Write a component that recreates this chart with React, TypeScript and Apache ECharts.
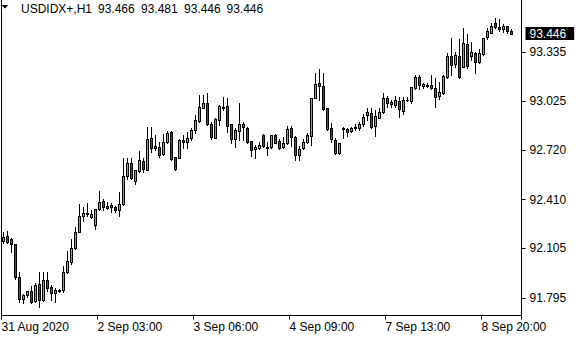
import React, { useEffect, useRef } from 'react';
import * as echarts from 'echarts';

const symbolText = 'USDIDX+,H1';
const headerValues = ['93.466', '93.481', '93.446', '93.446'];
const timeLabels = ['31 Aug 2020', '2 Sep 03:00', '3 Sep 06:00', '4 Sep 09:00', '7 Sep 13:00', '8 Sep 20:00'];
const timeLabelBars = [0, 24, 48, 72, 96, 120];
const priceTicks = [91.795, 92.105, 92.41, 92.72, 93.025, 93.335];

const opens = [
  92.149, 92.183, 92.162, 92.133, 91.928, 91.790, 91.811, 91.838, 91.774, 91.882,
  91.780, 91.905, 91.863, 91.824, 91.841, 91.845, 91.957, 92.020, 92.108, 92.210,
  92.308, 92.318, 92.304, 92.249, 92.349, 92.402, 92.370, 92.379, 92.364, 92.347,
  92.381, 92.558, 92.638, 92.527, 92.592, 92.652, 92.594, 92.794, 92.744, 92.740,
  92.694, 92.773, 92.836, 92.680, 92.673, 92.784, 92.769, 92.794, 92.846, 92.903,
  92.986, 93.013, 92.882, 92.798, 92.909, 92.986, 92.997, 92.882, 92.788, 92.842,
  92.882, 92.861, 92.777, 92.727, 92.735, 92.815, 92.732, 92.738, 92.815, 92.778,
  92.738, 92.763, 92.857, 92.801, 92.690, 92.732, 92.774, 92.809, 93.045, 93.143,
  93.122, 92.986, 92.857, 92.784, 92.701, 92.853, 92.853, 92.840, 92.857, 92.857,
  92.882, 92.941, 92.951, 92.874, 92.924, 92.957, 93.047, 93.010, 93.003, 93.028,
  92.968, 93.032, 93.030, 93.108, 93.181, 93.124, 93.128, 93.128, 93.108, 93.060,
  93.076, 93.181, 93.310, 93.260, 93.310, 93.243, 93.385, 93.310, 93.331, 93.275,
  93.322, 93.427, 93.456, 93.519, 93.494, 93.477, 93.498, 93.466,
];
const closes = [
  92.174, 92.145, 92.133, 91.928, 91.788, 91.811, 91.836, 91.768, 91.874, 91.782,
  91.907, 91.857, 91.824, 91.845, 91.845, 91.957, 92.024, 92.108, 92.208, 92.308,
  92.329, 92.329, 92.320, 92.349, 92.393, 92.362, 92.360, 92.362, 92.347, 92.381,
  92.558, 92.638, 92.548, 92.596, 92.659, 92.602, 92.790, 92.736, 92.732, 92.690,
  92.773, 92.826, 92.665, 92.600, 92.784, 92.769, 92.798, 92.846, 92.909, 92.988,
  93.013, 92.882, 92.805, 92.915, 92.997, 92.988, 92.873, 92.790, 92.846, 92.882,
  92.867, 92.769, 92.721, 92.740, 92.753, 92.747, 92.742, 92.815, 92.767, 92.732,
  92.763, 92.851, 92.801, 92.690, 92.726, 92.774, 92.815, 93.045, 93.135, 93.122,
  92.976, 92.853, 92.788, 92.701, 92.763, 92.861, 92.836, 92.861, 92.863, 92.884,
  92.930, 92.957, 92.868, 92.936, 92.957, 93.047, 93.014, 93.020, 93.035, 92.976,
  93.035, 93.035, 93.114, 93.181, 93.128, 93.133, 93.122, 93.108, 93.055, 93.083,
  93.185, 93.310, 93.254, 93.316, 93.181, 93.389, 93.247, 93.333, 93.275, 93.327,
  93.421, 93.469, 93.498, 93.489, 93.477, 93.498, 93.469, 93.446,
];
const lows = [
  92.137, 92.141, 92.085, 91.912, 91.772, 91.761, 91.803, 91.765, 91.770, 91.740,
  91.776, 91.838, 91.782, 91.772, 91.834, 91.834, 91.953, 92.010, 92.104, 92.210,
  92.276, 92.310, 92.297, 92.224, 92.345, 92.345, 92.349, 92.333, 92.335, 92.310,
  92.377, 92.537, 92.540, 92.506, 92.586, 92.586, 92.594, 92.711, 92.721, 92.680,
  92.690, 92.767, 92.659, 92.596, 92.669, 92.736, 92.736, 92.786, 92.825, 92.894,
  92.982, 92.878, 92.790, 92.794, 92.878, 92.971, 92.836, 92.763, 92.742, 92.784,
  92.784, 92.763, 92.686, 92.673, 92.726, 92.742, 92.690, 92.732, 92.763, 92.726,
  92.732, 92.759, 92.747, 92.659, 92.659, 92.726, 92.763, 92.753, 93.045, 93.035,
  92.972, 92.847, 92.774, 92.694, 92.694, 92.799, 92.809, 92.836, 92.847, 92.847,
  92.874, 92.909, 92.857, 92.811, 92.920, 92.951, 92.993, 92.993, 92.993, 92.930,
  92.947, 93.030, 93.014, 93.101, 93.101, 93.108, 93.114, 93.101, 92.993, 93.039,
  93.072, 93.170, 93.191, 93.243, 93.174, 93.239, 93.233, 93.285, 93.201, 93.264,
  93.316, 93.414, 93.452, 93.483, 93.469, 93.462, 93.452, 93.446,
];
const highs = [
  92.210, 92.214, 92.168, 92.133, 91.955, 91.820, 91.841, 91.870, 91.886, 91.960,
  91.960, 91.960, 91.876, 91.859, 91.849, 91.995, 92.087, 92.166, 92.239, 92.381,
  92.366, 92.391, 92.345, 92.349, 92.464, 92.412, 92.398, 92.391, 92.370, 92.460,
  92.671, 92.671, 92.669, 92.596, 92.715, 92.669, 92.867, 92.867, 92.815, 92.769,
  92.819, 92.840, 92.840, 92.680, 92.790, 92.815, 92.836, 92.857, 92.940, 93.065,
  93.065, 93.076, 92.898, 92.923, 93.003, 93.055, 93.045, 92.882, 92.861, 93.013,
  92.894, 92.867, 92.777, 92.752, 92.770, 92.822, 92.774, 92.815, 92.822, 92.788,
  92.805, 92.872, 92.872, 92.809, 92.747, 92.788, 92.830, 93.045, 93.202, 93.227,
  93.202, 92.986, 92.888, 92.794, 92.763, 92.868, 92.861, 92.868, 92.882, 92.895,
  92.945, 92.982, 92.982, 92.972, 92.982, 93.076, 93.062, 93.035, 93.060, 93.051,
  93.051, 93.055, 93.114, 93.191, 93.191, 93.143, 93.139, 93.191, 93.170, 93.149,
  93.191, 93.327, 93.421, 93.337, 93.414, 93.483, 93.448, 93.400, 93.337, 93.352,
  93.421, 93.483, 93.515, 93.546, 93.540, 93.510, 93.498, 93.481,
];

const FONT = '"Liberation Sans", Arial, sans-serif';
const FONT_SIZE = 12;
const BULL = '#00ff00';
const BEAR = '#ff0000';
const emptySlotsRight = 2;
const headerValueX = [98, 141, 184, 226.5];

export default function App() {
  const ref = useRef<HTMLDivElement>(null);
  useEffect(() => {
    document.body.style.margin = '0';
    if (!ref.current) return;
    const chart = echarts.init(ref.current, undefined, { renderer: 'svg' });
    const slots = opens.length + emptySlotsRight;
    const categories = Array.from({ length: slots }, (_, i) => {
      const k = timeLabelBars.indexOf(i);
      return k >= 0 ? timeLabels[k] : `#${i}`;
    });
    const data = opens.map((o, i) => [i, o, closes[i], lows[i], highs[i]]);
    const lastClose = closes[closes.length - 1];
    const isLabelBar = (i: number) => timeLabelBars.includes(i);

    const renderCandle = (params: any, api: any) => {
      const i = api.value(0);
      const o = api.value(1);
      const c = api.value(2);
      const pO = api.coord([i, o]);
      const pC = api.coord([i, c]);
      const pL = api.coord([i, api.value(3)]);
      const pH = api.coord([i, api.value(4)]);
      const col = Math.floor(pO[0]);
      const yHigh = Math.round(pH[1]);
      const yLow = Math.round(pL[1]);
      const yTop = Math.round(Math.min(pO[1], pC[1]));
      const yBot = Math.max(Math.round(Math.max(pO[1], pC[1])), yTop);
      const children: any[] = [
        { type: 'rect', shape: { x: col, y: yHigh, width: 1, height: yLow - yHigh + 1 }, style: { fill: '#000' } },
        { type: 'rect', shape: { x: col - 1, y: yTop, width: 3, height: yBot - yTop + 1 }, style: { fill: '#000' } },
      ];
      if (yBot - yTop > 1) {
        children.push({
          type: 'rect',
          shape: { x: col, y: yTop + 1, width: 1, height: yBot - yTop - 1 },
          style: { fill: c >= o ? BULL : BEAR },
        });
      }
      return { type: 'group', children };
    };

    chart.setOption({
      animation: false,
      backgroundColor: '#fff',
      textStyle: { fontFamily: FONT },
      grid: {
        left: 1.5,
        right: 58.5,
        top: -2,
        bottom: 24.5,
        show: true,
        borderColor: '#000',
        borderWidth: 1,
        containLabel: false,
        outerBoundsMode: 'none',
      },
      xAxis: {
        type: 'category',
        data: categories,
        boundaryGap: true,
        axisLine: { show: true, lineStyle: { color: '#000', width: 1 } },
        axisTick: {
          show: true,
          alignWithLabel: false,
          interval: (i: number) => isLabelBar(i),
          length: 4,
          lineStyle: { color: '#000' },
        },
        axisLabel: {
          interval: (i: number) => isLabelBar(i),
          align: 'left',
          margin: 5,
          color: '#000',
          fontSize: FONT_SIZE,
          fontFamily: FONT,
          padding: [0, 0, 0, -2],
          formatter: (v: string) => v,
        },
        splitLine: { show: false },
      },
      yAxis: {
        type: 'value',
        position: 'right',
        min: 91.685,
        max: 93.673,
        scale: true,
        axisLine: { show: true, lineStyle: { color: '#000', width: 1 } },
        axisTick: {
          show: true,
          customValues: priceTicks,
          length: 4,
          lineStyle: { color: '#000' },
        },
        axisLabel: {
          customValues: priceTicks,
          formatter: (v: number) => v.toFixed(3),
          margin: 8,
          color: '#000',
          fontSize: FONT_SIZE,
          fontFamily: FONT,
        },
        splitLine: { show: false },
      },
      series: [
        {
          type: 'custom',
          name: symbolText,
          data,
          encode: { x: 0, y: [1, 2, 3, 4] },
          renderItem: renderCandle,
          clip: false,
          markLine: {
            silent: true,
            symbol: 'none',
            animation: false,
            lineStyle: { color: 'rgba(0,0,0,0)', width: 1 },
            label: {
              show: true,
              position: 'end',
              distance: 4,
              formatter: () => lastClose.toFixed(3),
              color: '#fff',
              backgroundColor: '#000',
              padding: [1, 8, 0, 4],
              lineHeight: 12,
              fontSize: FONT_SIZE,
              fontFamily: FONT,
            },
            data: [{ yAxis: lastClose }],
          },
        },
      ],
      graphic: [
        {
          type: 'polygon',
          shape: { points: [[1.5, 5], [8.5, 5], [5, 8.5]] },
          style: { fill: '#000' },
        },
        {
          type: 'text',
          x: 21,
          y: 8.5,
          style: { text: symbolText, fill: '#000', fontSize: FONT_SIZE, fontFamily: FONT, verticalAlign: 'middle' },
        },
        ...headerValues.map((v, i) => ({
          type: 'text',
          x: headerValueX[i],
          y: 8.5,
          style: { text: v, fill: '#000', fontSize: FONT_SIZE, fontFamily: FONT, verticalAlign: 'middle' },
        })),
      ],
    });
    return () => chart.dispose();
  }, []);
  return <div ref={ref} style={{ width: 580, height: 340 }} />;
}
